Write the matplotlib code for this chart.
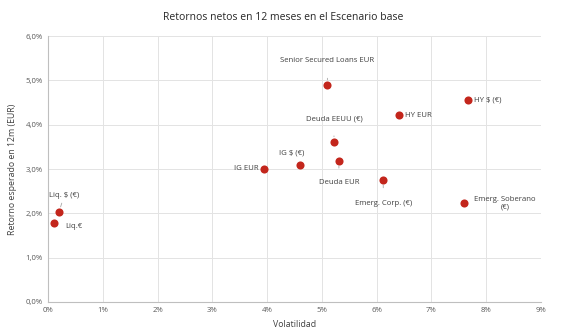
import matplotlib
matplotlib.use("Agg")
import matplotlib.pyplot as plt
from matplotlib.ticker import FuncFormatter, MultipleLocator

plt.rcParams['font.family'] = ['Open Sans', 'DejaVu Sans']

# Data
names = ["Liq.€", "Liq. $ (€)", "IG EUR", "IG $ (€)", "Senior Secured Loans EUR",
         "Deuda EEUU (€)", "Deuda EUR", "Emerg. Corp. (€)", "HY EUR", "HY $ (€)",
         "Emerg. Soberano\n(€)"]
volatilidad = [0.10, 0.20, 3.95, 4.60, 5.10, 5.22, 5.31, 6.12, 6.41, 7.67, 7.60]
retorno = [1.79, 2.04, 3.01, 3.10, 4.90, 3.62, 3.18, 2.75, 4.21, 4.56, 2.23]

# Label placement (offset pixels, alignment, leader shrink in points or None)
offsets = [(20, -4, 'center', None), (5, 16, 'center', 1), (-6, 0, 'right', None),
           (-8, 12, 'center', None), (0, 24, 'center', 8), (0, 23, 'center', 8),
           (0, -21, 'center', 5.5), (0, -23, 'center', 6.5), (6, 0, 'left', None),
           (6, 0, 'left', None), (41, 0, 'center', None)]

fig = plt.figure(figsize=(5.67, 3.34), dpi=100)
ax = fig.add_axes([0.085, 0.096, 0.869, 0.796])

ax.scatter(volatilidad, retorno, s=34, color='#c3261c', zorder=3, linewidths=0)

for n, x, y, (dx, dy, ha, shr) in zip(names, volatilidad, retorno, offsets):
    ap = None
    if shr is not None:
        ap = dict(arrowstyle='-', color='#a6a6a6', lw=0.6, shrinkA=shr, shrinkB=3.5)
    ax.annotate(n, (x, y), xytext=(dx, dy), textcoords='offset pixels',
                ha=ha, va='center', fontsize=5.6, color='#404040',
                arrowprops=ap, zorder=4, linespacing=1.1)

ax.set_xlim(0, 9)
ax.set_ylim(0, 6)
ax.xaxis.set_major_locator(MultipleLocator(1))
ax.yaxis.set_major_locator(MultipleLocator(1))
ax.xaxis.set_major_formatter(FuncFormatter(lambda v, p: f"{v:.0f}%"))
ax.yaxis.set_major_formatter(FuncFormatter(lambda v, p: f"{v:.1f}%".replace('.', ',')))
ax.tick_params(length=0, labelsize=5.6, labelcolor='#595959', pad=4)
ax.grid(True, color='#e3e3e3', lw=0.7)
ax.set_axisbelow(True)
for s in ['top', 'right']:
    ax.spines[s].set_visible(False)
for s in ['left', 'bottom']:
    ax.spines[s].set_color('#bfbfbf')
    ax.spines[s].set_linewidth(0.8)

ax.set_xlabel("Volatilidad", fontsize=6.3, color='#404040', labelpad=4)
ax.set_ylabel("Retorno esperado en 12m (EUR)", fontsize=6.3, color='#404040', labelpad=6)
fig.suptitle("Retornos netos en 12 meses en el Escenario base", fontsize=7.5,
             color='#262626', y=0.965)

fig.savefig("out.png", dpi=100, facecolor='white')
